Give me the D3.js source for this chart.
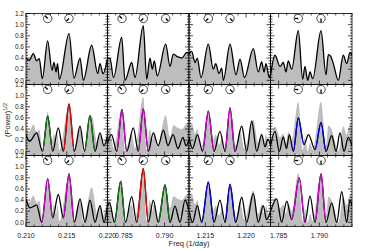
<!DOCTYPE html>
<html><head><meta charset="utf-8">
<script src="https://cdn.jsdelivr.net/npm/d3@7"></script>
<style>body{margin:0;background:#fff}svg{display:block}</style>
</head><body>
<svg id="c" width="370" height="250"></svg>
<script>
// ---------- data ----------
const colStart = [0.210, 0.783, 1.213, 1.784];
const colSpan = 0.010;
const xMajorTicks = [[0.210, 0.215, 0.220], [0.785, 0.790], [1.215, 1.220], [1.785, 1.790]];
const yTickVals = [0.0, 0.2, 0.4, 0.6, 0.8, 1.0, 1.2];

// observed amplitude spectra (top row; grey background in lower rows)
const data0 = [[0.21000,0.40],[0.21040,0.36],[0.21090,0.48],[0.21131,0.35],[0.21163,0.39],[0.21200,0.03],[0.21266,0.71],[0.21319,0.18],[0.21344,0.32],[0.21368,0.15],[0.21387,0.30],[0.21409,0.02],[0.21528,0.84],[0.21589,0.04],[0.21663,0.40],[0.21703,0.00],[0.21806,0.63],[0.21880,0.12],[0.21908,0.30],[0.21945,0.12],[0.22000,0.40]];
const data1 = [[0.78300,0.40],[0.78331,0.39],[0.78374,0.05],[0.78474,0.77],[0.78515,0.00],[0.78597,0.32],[0.78637,0.05],[0.78739,0.98],[0.78781,0.02],[0.78821,0.40],[0.78850,0.20],[0.78874,0.35],[0.78911,0.08],[0.79014,0.65],[0.79067,0.25],[0.79107,0.47],[0.79165,0.42],[0.79214,0.40],[0.79272,0.50],[0.79300,0.47]];
const data2 = [[1.21300,0.47],[1.21333,0.52],[1.21374,0.32],[1.21402,0.40],[1.21447,0.05],[1.21537,0.65],[1.21598,0.20],[1.21628,0.30],[1.21668,0.12],[1.21701,0.22],[1.21721,0.00],[1.21803,0.65],[1.21877,0.10],[1.21926,0.38],[1.21981,0.05],[1.22089,0.57],[1.22150,0.15],[1.22192,0.33],[1.22220,0.15],[1.22245,0.30],[1.22285,0.05],[1.22300,0.10]];
const data3 = [[1.78400,0.08],[1.78455,0.45],[1.78517,0.25],[1.78557,0.32],[1.78590,0.15],[1.78618,0.35],[1.78660,0.20],[1.78741,0.89],[1.78795,0.02],[1.78823,0.25],[1.78856,0.00],[1.78885,0.15],[1.78918,0.03],[1.79020,0.89],[1.79081,0.10],[1.79109,0.46],[1.79139,0.43],[1.79171,0.30],[1.79232,0.00],[1.79293,0.45],[1.79335,0.30],[1.79375,0.50],[1.79400,0.45]];

// model fits, middle row
const m2_0 = [[0.21000,0.30],[0.21043,0.18],[0.21131,0.33],[0.21202,0.00],[0.21266,0.63],[0.21328,0.00],[0.21396,0.42],[0.21458,0.00],[0.21528,0.85],[0.21593,0.00],[0.21663,0.45],[0.21718,0.00],[0.21785,0.64],[0.21847,0.00],[0.21908,0.33],[0.21957,0.10],[0.22000,0.27]];
const m2_1 = [[0.78300,0.15],[0.78349,0.30],[0.78413,0.00],[0.78478,0.75],[0.78536,0.00],[0.78617,0.42],[0.78678,0.00],[0.78739,0.76],[0.78801,0.00],[0.78862,0.33],[0.78923,0.10],[0.78985,0.38],[0.79042,0.10],[0.79104,0.30],[0.79165,0.05],[0.79226,0.25],[0.79263,0.10],[0.79300,0.22]];
const m2_2 = [[1.21300,0.25],[1.21343,0.05],[1.21404,0.30],[1.21466,0.00],[1.21537,0.72],[1.21607,0.00],[1.21680,0.36],[1.21742,0.00],[1.21803,0.78],[1.21864,0.00],[1.21947,0.45],[1.22008,0.00],[1.22069,0.54],[1.22131,0.00],[1.22192,0.30],[1.22233,0.08],[1.22269,0.22],[1.22300,0.10]];
const m2_3 = [[1.78400,0.10],[1.78455,0.36],[1.78508,0.00],[1.78557,0.26],[1.78596,0.05],[1.78631,0.30],[1.78680,0.00],[1.78741,0.60],[1.78811,0.12],[1.78866,0.30],[1.78946,0.03],[1.79020,0.52],[1.79081,0.00],[1.79151,0.28],[1.79204,0.00],[1.79253,0.33],[1.79302,0.00],[1.79355,0.25],[1.79400,0.10]];

// model fits, bottom row
const m3_0 = [[0.21000,0.42],[0.21049,0.26],[0.21131,0.31],[0.21193,0.00],[0.21266,0.78],[0.21328,0.08],[0.21396,0.50],[0.21458,0.08],[0.21528,0.87],[0.21593,0.00],[0.21663,0.42],[0.21724,0.00],[0.21785,0.40],[0.21847,0.00],[0.21908,0.30],[0.21957,0.00],[0.22000,0.30]];
const m3_1 = [[0.78300,0.30],[0.78325,0.35],[0.78386,0.00],[0.78460,0.73],[0.78521,0.00],[0.78597,0.46],[0.78658,0.00],[0.78739,0.97],[0.78801,0.00],[0.78862,0.40],[0.78923,0.00],[0.79006,0.67],[0.79067,0.00],[0.79128,0.29],[0.79190,0.00],[0.79251,0.40],[0.79300,0.20]];
const m3_2 = [[1.21300,0.20],[1.21345,0.00],[1.21402,0.30],[1.21456,0.00],[1.21537,0.72],[1.21607,0.00],[1.21680,0.40],[1.21742,0.00],[1.21803,0.68],[1.21873,0.00],[1.21947,0.45],[1.22008,0.00],[1.22089,0.52],[1.22150,0.00],[1.22212,0.30],[1.22251,0.05],[1.22300,0.20]];
const m3_3 = [[1.78400,0.20],[1.78476,0.42],[1.78537,0.00],[1.78599,0.38],[1.78660,0.05],[1.78753,0.80],[1.78823,0.00],[1.78885,0.47],[1.78946,0.00],[1.79020,0.87],[1.79081,0.00],[1.79151,0.35],[1.79212,0.00],[1.79274,0.55],[1.79335,0.00],[1.79375,0.40],[1.79400,0.30]];

// highlighted components: [from freq, to freq, component]
const hl2 = [
  [[0.21202,0.21328,'g'],[0.21458,0.21593,'r'],[0.21718,0.21847,'g']],
  [[0.78413,0.78536,'m'],[0.78678,0.78801,'m']],
  [[1.21466,1.21607,'m'],[1.21742,1.21864,'m']],
  [[1.78680,1.78811,'b'],[1.78946,1.79081,'b']]
];
const hl3 = [
  [[0.21193,0.21328,'m'],[0.21458,0.21593,'m']],
  [[0.78386,0.78521,'g'],[0.78658,0.78801,'r'],[0.78923,0.79067,'g']],
  [[1.21456,1.21607,'b'],[1.21742,1.21873,'b']],
  [[1.78660,1.78823,'m'],[1.78946,1.79081,'m']]
];

// phase dials: [freq, phase angle in degrees]
const dials = [
  [[0.21266,135],[0.21528,225]],
  [[0.78478,135],[0.78739,225],[0.79014,315]],
  [[1.21537,225],[1.21803,315]],
  [[1.78741,180],[1.79020,270]]
];

// ---------- drawing ----------
const compColor = {g:'#0b7a0b', r:'#ff0000', m:'#d400d4', b:'#0000f0'};
const fillGrey = '#bdbdbd';
const L = 26, R = 352, T = 13.5, B = 226.5;
const colW = (R - L) / 4, rowH = (B - T) / 3;
const yMin = -0.075, yMax = 1.2;
const font = "'Liberation Sans', Arial, sans-serif";

const svg = d3.select('#c');
const defs = svg.append('defs');
const dataSeries = [data0, data1, data2, data3];
const models = [null, [m2_0, m2_1, m2_2, m2_3], [m3_0, m3_1, m3_2, m3_3]];
const hls = [null, hl2, hl3];
let clipId = 0;

for (let r = 0; r < 3; r++) {
  for (let c = 0; c < 4; c++) {
    const x0 = L + c * colW, x1 = L + (c + 1) * colW;
    const y0 = T + r * rowH, y1 = T + (r + 1) * rowH;
    const x = d3.scaleLinear([colStart[c], colStart[c] + colSpan], [x0, x1]);
    const y = d3.scaleLinear([yMin, yMax], [y1, y0]);
    const g = svg.append('g');
    const cid = 'p' + (clipId++);
    defs.append('clipPath').attr('id', cid).append('rect')
      .attr('x', x0).attr('y', y0).attr('width', x1 - x0).attr('height', y1 - y0);
    const pg = g.append('g').attr('clip-path', `url(#${cid})`);
    const curve = d3.curveMonotoneX;
    const area = d3.area().x(d => x(d[0])).y0(y(yMin)).y1(d => y(d[1])).curve(curve);
    const line = d3.line().x(d => x(d[0])).y(d => y(d[1])).curve(curve);
    pg.append('path').datum(dataSeries[c]).attr('d', area).attr('fill', fillGrey);
    if (r === 0) {
      pg.append('path').datum(dataSeries[c]).attr('d', line)
        .attr('fill', 'none').attr('stroke', '#000').attr('stroke-width', 1.3);
    } else {
      const m = models[r][c];
      pg.append('path').datum(m).attr('d', line)
        .attr('fill', 'none').attr('stroke', '#000').attr('stroke-width', 1.3);
      hls[r][c].forEach(h => {
        const hid = 'p' + (clipId++);
        defs.append('clipPath').attr('id', hid).append('rect')
          .attr('x', x(h[0])).attr('y', y0).attr('width', x(h[1]) - x(h[0])).attr('height', y1 - y0);
        pg.append('path').datum(m).attr('d', line).attr('clip-path', `url(#${hid})`)
          .attr('fill', 'none').attr('stroke', compColor[h[2]]).attr('stroke-width', 1.3);
      });
    }
    // ticks
    const minorX = d3.range(11).map(i => colStart[c] + i * 0.001);
    const tg = g.append('g').attr('stroke', '#000').attr('stroke-width', 0.7);
    minorX.forEach(f => {
      const isMaj = xMajorTicks[c].some(v => Math.abs(v - f) < 1e-7);
      const len = isMaj ? 4 : 2;
      tg.append('line').attr('x1', x(f)).attr('x2', x(f)).attr('y1', y1).attr('y2', y1 - len);
      tg.append('line').attr('x1', x(f)).attr('x2', x(f)).attr('y1', y0).attr('y2', y0 + len);
    });
    const minorY = d3.range(0, 25).map(i => i * 0.05);
    minorY.forEach(v => {
      const isMaj = yTickVals.some(t => Math.abs(t - v) < 1e-7);
      const len = isMaj ? 4 : 2;
      tg.append('line').attr('x1', x0).attr('x2', x0 + len).attr('y1', y(v)).attr('y2', y(v));
      tg.append('line').attr('x1', x1).attr('x2', x1 - len).attr('y1', y(v)).attr('y2', y(v));
    });
    g.append('rect').attr('x', x0).attr('y', y0).attr('width', x1 - x0).attr('height', y1 - y0)
      .attr('fill', 'none').attr('stroke', '#000').attr('stroke-width', 0.8);
    // dials
    dials[c].forEach(d => {
      const cx = x(d[0]), cy = y0 + 5;
      const a = d[1] * Math.PI / 180;
      g.append('circle').attr('cx', cx).attr('cy', cy).attr('r', 4.2)
        .attr('fill', '#fff').attr('stroke', '#000').attr('stroke-width', 0.7);
      g.append('line').attr('x1', cx).attr('y1', cy)
        .attr('x2', cx + 3.6 * Math.cos(a)).attr('y2', cy - 3.6 * Math.sin(a))
        .attr('stroke', '#000').attr('stroke-width', 1.3);
    });
    // labels
    if (c === 0) {
      yTickVals.forEach(v => {
        svg.append('text').attr('x', x0 - 2).attr('y', y(v)).attr('dy', '0.35em')
          .attr('text-anchor', 'end').attr('font-family', font).attr('font-size', 6.5)
          .attr('fill', '#222').text(v.toFixed(1));
      });
    }
    if (r === 2) {
      xMajorTicks[c].forEach(v => {
        svg.append('text').attr('x', x(v)).attr('y', y1 + 11)
          .attr('text-anchor', 'middle').attr('font-family', font).attr('font-size', 7)
          .attr('fill', '#222').text(v.toFixed(3));
      });
    }
  }
}
// axis titles
svg.append('text').attr('x', (L + R) / 2).attr('y', 246).attr('text-anchor', 'middle')
  .attr('font-family', font).attr('font-size', 7.5).attr('fill', '#222').text('Freq (1/day)');
const yl = svg.append('text').attr('transform', `translate(10,${(T + B) / 2}) rotate(-90)`)
  .attr('text-anchor', 'middle').attr('font-family', font).attr('font-size', 7.5).attr('fill', '#222');
yl.append('tspan').text('(Power)');
yl.append('tspan').attr('dy', -3).attr('font-size', 5.5).text('1/2');
</script>
</body></html>
